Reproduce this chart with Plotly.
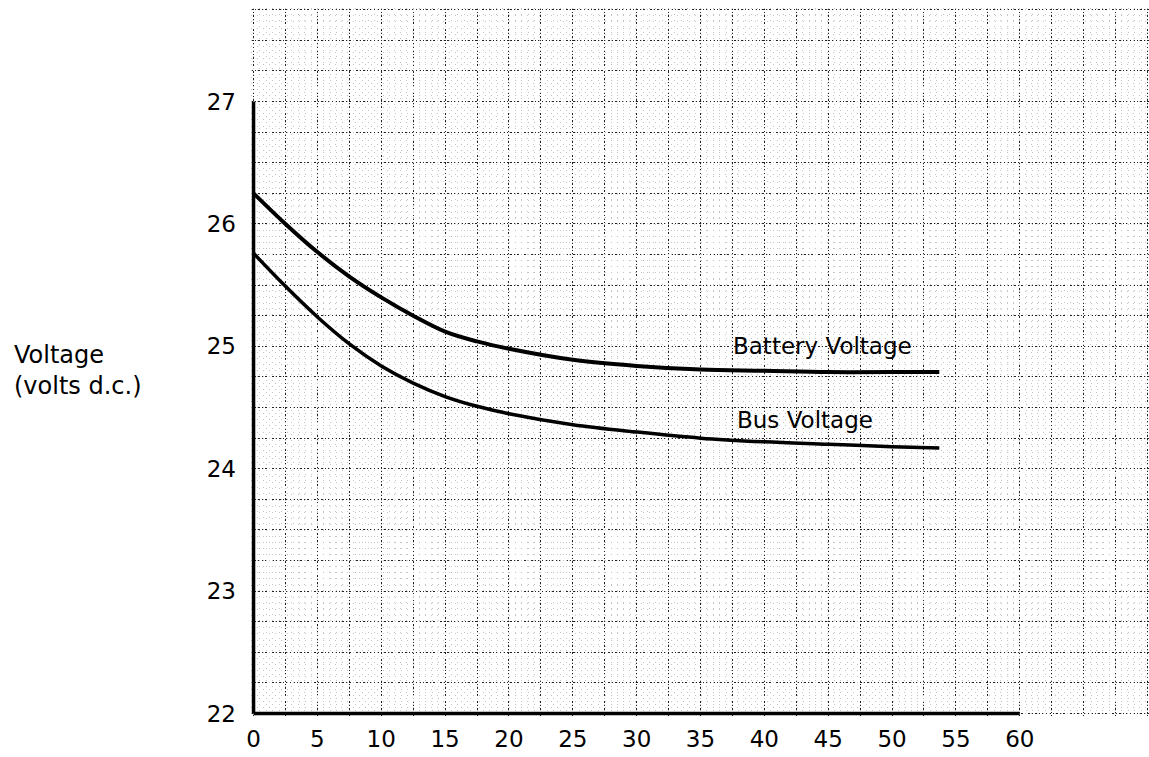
import plotly.graph_objects as go

# Elapsed time (minutes) and measured voltages
time_min = [0, 2.5, 5, 7.5, 10, 12.5, 15, 17.5, 20, 25, 30, 35, 40, 45, 50, 53.7]
battery_v = [26.25, 26.00, 25.77, 25.57, 25.40, 25.25, 25.12, 25.04, 24.98, 24.89,
             24.84, 24.81, 24.80, 24.79, 24.79, 24.79]
bus_v = [25.76, 25.49, 25.24, 25.02, 24.84, 24.70, 24.59, 24.51, 24.45, 24.36,
         24.30, 24.25, 24.22, 24.20, 24.18, 24.17]

x_tick_vals = [0, 5, 10, 15, 20, 25, 30, 35, 40, 45, 50, 55, 60]
x_tick_text = ["0", "5", "10", "15", "20", "25", "30", "35", "40", "45", "50", "55", "60"]
y_tick_vals = [22, 23, 24, 25, 26, 27]
y_tick_text = ["22", "23", "24", "25", "26", "27"]

X_RANGE = [-0.2, 70.12]
Y_RANGE = [21.98, 27.764]
FONT = "DejaVu Sans"
DOTS = "1.5px,2px"

fig = go.Figure()

fig.add_trace(go.Scatter(x=time_min, y=battery_v, mode="lines",
                         line=dict(color="black", width=4, shape="spline", smoothing=1.0),
                         showlegend=False, hoverinfo="skip"))
fig.add_trace(go.Scatter(x=time_min, y=bus_v, mode="lines",
                         line=dict(color="black", width=3.5, shape="spline", smoothing=1.0),
                         showlegend=False, hoverinfo="skip"))

# fine graph-paper lattice on an overlay axis pair
fig.add_trace(go.Scatter(x=[None], y=[None], xaxis="x2", yaxis="y2",
                         showlegend=False, hoverinfo="skip"))

# heavy axis lines, stopping at 27 V and 60 min
fig.add_shape(type="line", x0=0, x1=0, y0=22, y1=27, xref="x", yref="y",
              line=dict(color="black", width=3.5))
fig.add_shape(type="line", x0=0, x1=60, y0=22, y1=22, xref="x", yref="y",
              line=dict(color="black", width=3.5))

fig.add_annotation(x=37.4, y=25.0, xref="x", yref="y", text="Battery Voltage",
                   showarrow=False, xanchor="left", yanchor="middle",
                   font=dict(family=FONT, size=23, color="black"))
fig.add_annotation(x=37.7, y=24.40, xref="x", yref="y", text="Bus Voltage",
                   showarrow=False, xanchor="left", yanchor="middle",
                   font=dict(family=FONT, size=23, color="black"))
fig.add_annotation(x=12, y=355, xref="paper", yref="paper", text="Voltage",
                   showarrow=False, xanchor="left", yanchor="middle",
                   font=dict(family=FONT, size=24, color="black"))
fig.add_annotation(x=12, y=386, xref="paper", yref="paper", text="(volts d.c.)",
                   showarrow=False, xanchor="left", yanchor="middle",
                   font=dict(family=FONT, size=24, color="black"))

# convert the two left-label positions from pixels to paper coordinates
L, T, B = 251, 8, 41
W, H = 1149 - L, 757 - T - B
for ann in fig.layout.annotations[2:]:
    ann.x = (ann.x - L) / W
    ann.y = (757 - B - ann.y) / H

fig.update_layout(
    width=1149, height=757,
    margin=dict(l=L, r=0, t=T, b=B),
    paper_bgcolor="white", plot_bgcolor="white",
    xaxis=dict(range=X_RANGE, tickvals=x_tick_vals, ticktext=x_tick_text,
               showgrid=True, gridcolor="#222", gridwidth=1.3, griddash=DOTS,
               minor=dict(dtick=2.5, tick0=0, showgrid=True, gridcolor="#222",
                          gridwidth=1.3, griddash=DOTS),
               zeroline=False, showline=False, ticks="", ticklabelstandoff=7,
               tickfont=dict(family=FONT, size=23, color="black")),
    yaxis=dict(range=Y_RANGE, tickvals=y_tick_vals, ticktext=y_tick_text,
               showgrid=True, gridcolor="#222", gridwidth=1.3, griddash=DOTS,
               minor=dict(dtick=0.25, tick0=22, showgrid=True, gridcolor="#222",
                          gridwidth=1.3, griddash=DOTS),
               zeroline=False, showline=False, ticks="", ticklabelstandoff=14,
               tickfont=dict(family=FONT, size=23, color="black")),
    xaxis2=dict(range=X_RANGE, overlaying="x", dtick=0.5, tick0=0,
                showgrid=True, gridcolor="#c4c4c4", gridwidth=1, griddash="1px,5px",
                showticklabels=False, zeroline=False, ticks=""),
    yaxis2=dict(range=Y_RANGE, overlaying="y", dtick=0.05, tick0=22,
                showgrid=True, gridcolor="#c4c4c4", gridwidth=1, griddash="1px,5px",
                showticklabels=False, zeroline=False, ticks=""),
)

fig.write_html("out.html")
